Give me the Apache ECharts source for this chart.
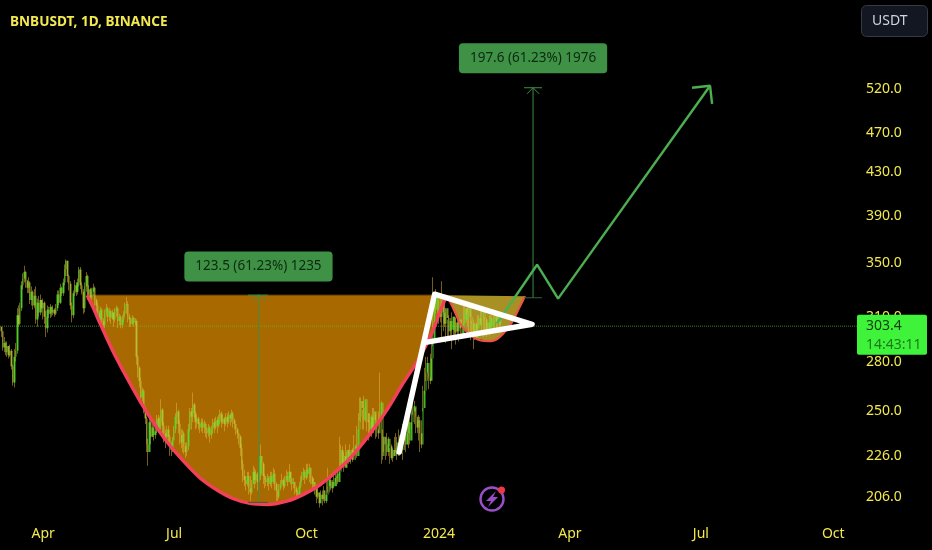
<!DOCTYPE html>
<html><head><meta charset="utf-8">
<style>html,body{margin:0;padding:0;background:#000}#c{width:932px;height:550px}</style>
<script src="https://cdn.jsdelivr.net/npm/echarts@6/dist/echarts.min.js"></script>
</head><body><div id="c"></div>
<script>
// Time is counted in trading days since 2 Mar 2023 (TradingView spaces bars evenly).
const xTickDays = [30,121,213,305,396,487,579];
const xTickLabels = ['Apr','Jul','Oct','2024','Apr','Jul','Oct'];
const yTicks = [206,226,250,280,310,350,390,430,470,520];
const closes = [
303,300,289,292,286,290,284,287,277,267,
283,287,311,305,316,333,338,343,336,331,
335,322,328,318,325,308,320,313,322,316,
320,310,302,315,312,317,313,315,312,316,
326,320,331,327,335,345,352,340,334,318,
311,327,333,328,335,345,333,328,316,332,
340,326,330,324,328,331,322,318,313,308,
315,307,304,313,316,310,314,309,313,308,
314,316,307,310,304,308,312,318,319,310,
308,305,309,306,307,283,
276,268,258,262,252,246,232,228,244,236,
241,237,239,246,240,244,251,242,238,234,
240,236,232,229,234,240,247,250,243,237,
233,238,231,228,231,240,250,247,254,249,
244,246,243,241,244,241,243,240,238,241,
237,240,244,241,245,242,246,249,244,246,
243,247,244,248,246,249,245,243,240,238,
236,230,222,216,214,212,216,210,208,212,
218,214,217,213,216,226,222,216,214,213,
215,212,216,213,217,212,209,206,
210,212,214,211,214,216,213,218,215,212,
213,210,208,207,211,214,216,218,215,219,
217,220,215,212,213,210,206,208,203,207,
205,209,204,207,211,214,210,213,211,215,
217,213,218,229,222,226,220,229,223,227,
229,224,228,231,226,240,247,256,252,245,
257,249,244,240,247,241,250,245,240,238,246,
255,226,236,232,228,235,231,225,229,226,230,
233,228,236,229,234,240,232,238,244,234,
244,250,253,247,241,245,238,232,252,262,
273,279,270,268,282,295,322,315,325,318,
310,322,313,305,316,309,300,307,301,310,
299,306,300,308,302,298,305,316,308,312,
318,310,305,300,305,295,302,309,304,312,
315,308,301,306,302,309,303,308,312,306,
310,305,309,304,303.4];
const highs = [
305,303,300,296,293,293,290,291,288,278,
288,292,316,318,320,336,342,348,344,337,
339,336,332,329,330,332,323,325,326,322,
323,321,314,318,317,319,317,318,316,319,
329,329,334,332,338,349,353,352,341,336,
320,329,337,335,338,347,347,335,330,335,
343,341,333,331,331,334,332,323,320,314,
317,316,309,315,319,317,316,315,315,313,
316,318,317,312,311,311,314,320,324,321,
312,309,311,310,309,308,
284,277,270,264,263,253,247,235,246,245,
243,243,241,248,248,247,257,252,244,240,
242,242,237,233,236,242,249,255,251,245,
240,240,239,233,233,243,252,252,261,255,
250,248,247,244,246,246,245,244,241,243,
242,242,246,246,247,247,248,251,250,248,
247,249,249,250,249,251,250,246,243,241,
238,237,232,224,219,216,218,218,216,214,
221,220,219,218,236,232,226,223,217,216,
217,216,218,218,220,219,213,209,
212,214,217,215,216,219,218,222,218,215,
215,213,211,209,213,216,218,220,219,222,
222,222,220,216,215,213,211,210,208,209,
209,211,209,213,220,216,216,214,218,219,
216,220,236,232,231,228,232,228,229,232,
228,230,237,232,242,249,258,258,251,259,
254,249,245,249,248,252,252,248,242,250,273,
256,240,236,232,238,236,230,232,230,236,
238,236,240,237,238,243,244,240,243,247,
248,253,256,256,252,245,248,247,245,265,
276,283,283,273,285,300,339,325,330,327,
322,324,336,320,320,316,308,311,309,313,
310,310,309,310,309,306,308,320,318,316,
321,320,312,307,308,306,306,311,311,315,
318,317,310,309,306,311,311,311,315,314,
312,311,312,310,306];
const lows = [
298,296,287,286,284,283,282,283,275,265,
264,280,285,303,304,314,330,335,331,327,
327,319,318,315,316,305,303,310,311,313,
308,305,296,299,309,309,310,311,310,311,
314,318,319,325,325,333,340,335,329,315,
306,309,325,325,326,332,330,326,312,313,
328,322,324,320,322,325,318,313,307,305,
305,303,300,302,310,306,307,305,308,303,
306,310,302,304,302,302,306,310,312,306,
303,303,304,303,304,278,
270,264,256,256,249,243,228,221,232,232,
236,234,235,238,238,240,240,238,233,230,
236,233,226,226,228,234,238,243,238,232,
230,228,227,225,226,229,239,240,244,246,
240,241,240,238,239,238,238,236,235,236,
233,235,238,238,240,238,241,243,241,243,
239,242,241,243,242,244,241,240,237,235,
232,226,219,213,211,209,211,207,204,207,
212,210,212,209,212,214,217,212,210,211,
211,209,211,210,212,209,204,204,
205,209,212,209,210,213,211,213,212,209,
210,207,206,205,206,210,213,214,212,214,
215,213,212,210,209,207,203,205,201,203,
202,204,203,203,208,208,209,208,210,213,
211,212,216,219,220,218,221,220,222,224,
222,223,226,224,225,239,245,244,240,240,
244,239,234,238,236,240,238,235,236,235,240,
222,224,228,224,226,226,222,224,223,226,
228,224,226,226,227,224,229,228,232,230,
232,240,248,243,238,238,234,228,230,250,
260,268,268,263,266,270,290,310,312,312,
305,306,295,300,303,292,296,294,296,288,
297,294,291,296,293,297,303,302,305,306,
303,298,294,296,288,294,300,298,302,305,
298,296,297,296,299,297,300,303,300,301,
300,300,300,300];
const bigCupDays =   [60.5,64.6,69.5,78.5,88.3,97.3,106.3,116,127.2,139,150.8,161.9,173.7,185.5,199.4,210.6,222.4,234.2,245.3,257.1,268.9,280,290.5,297.4,302.3,305.8,310.6];
const bigCupPrices = [325.5,316.8,305.4,286.6,269.7,256,244.2,233.4,223.6,215,209.2,205.2,202.9,202.4,204,207,211.7,218.5,226.6,237.6,250.9,266.4,280.9,293.2,304,313.9,325.5];
const smallCupDays =   [310.6,316.2,321,330,339,345.4,354.4,359.3,364.8];
const smallCupPrices = [325.5,313.2,303.4,295.3,293.2,294.6,304,313.2,324.8];
const flagDays =   [277.3,302,369.7,296.7];
const flagPrices = [228,326.2,304.7,292.6];
const projectionDays =   [345.4,373.2,387.8,493.4];
const projectionPrices = [305.4,348.8,323,523.5];
const arrowHeadDays =   [480.9,493.4,494.8];
const arrowHeadPrices = [521.2,523.5,502.5];
const lastPrice = 303.4;
const countdown = '14:43:11';
const measureA = {text:'123.5 (61.23%) 1235', day:179.6, from:203.4, to:325.5, labelPrice:347.3,
  capLeft:172.3, capRight:186.2, barbLeft:175.1, barbRight:184.2, barbPrice:321.8};
const measureB = {text:'197.6 (61.23%) 1976', day:370.4, from:323.6, to:521.2, labelPrice:557.2,
  capLeft:364.1, capRight:376.6, barbLeft:366.2, barbRight:374.6, barbPrice:514.1};
const xMax = 595.5;
const pairs = (a,b)=>a.map((v,i)=>[v,b[i]]);
const FONT = '"Noto Sans"';
const YEL = '#f2e94e';

const bodies = closes.map((c,i)=>[i, i?closes[i-1]:c, c, lows[i], highs[i]]);
const wicks  = closes.map((c,i)=>[i, c, c, lows[i], highs[i]]);

const lineS = (data,color,width,z,extra)=>Object.assign({type:'line',data,symbol:'none',z,
  lineStyle:{color,width},silent:true,clip:false,animation:false},extra||{});
const poly = (pts,fill,z)=>({type:'custom',z,silent:true,data:[[pts[0][0],pts[0][1]]],clip:false,
  renderItem:(p,api)=>({type:'polygon',shape:{points:pts.map(q=>api.coord(q))},style:{fill}})});
const measure = (m)=>{
  const c='#3f8f45';
  return [
   lineS([[m.day,m.from],[m.day,m.to]],c,1,6),
   lineS([[m.capLeft,m.to],[m.capRight,m.to]],c,1,6),
   lineS([[m.barbLeft,m.barbPrice],[m.day,m.to],[m.barbRight,m.barbPrice]],c,1,6),
   lineS([[m.capLeft,m.from],[m.capRight,m.from]],'#35603a',1,6),
   {type:'scatter',z:9,symbolSize:0,silent:true,itemStyle:{opacity:1},data:[[m.day,m.labelPrice]],
    label:{show:true,position:'inside',formatter:m.text,fontFamily:FONT,fontSize:13.5,color:'#0b2a10',
      backgroundColor:'#3f9145',borderRadius:4,padding:[8,11,8,11]}}
  ];
};

const chart = echarts.init(document.getElementById('c'),null,{renderer:'canvas'});
chart.setOption({
  animation:false,
  backgroundColor:'#000',
  title:{text:'BNBUSDT, 1D, BINANCE',left:5,top:10,textStyle:{color:YEL,fontFamily:FONT,fontSize:13.6,fontWeight:700}},
  grid:{left:0,right:75,top:1,bottom:34,containLabel:false},
  xAxis:{type:'value',min:0,max:xMax,splitLine:{show:false},axisLine:{show:false},axisTick:{show:false},
    axisLabel:{customValues:xTickDays,formatter:v=>xTickLabels[xTickDays.indexOf(v)],color:YEL,fontFamily:FONT,fontSize:14,margin:11}},
  yAxis:{type:'log',logBase:10,min:197.2,max:634.6,position:'right',splitLine:{show:false},axisLine:{show:false},axisTick:{show:false},
    axisLabel:{customValues:yTicks,formatter:v=>Number(v).toFixed(1),color:YEL,fontFamily:FONT,fontSize:14,margin:9,align:'left'}},
  series:[
    poly(pairs(bigCupDays,bigCupPrices),'#a86a00',1),
    poly(pairs(smallCupDays,smallCupPrices),'rgba(178,152,38,0.95)',1),
    lineS([[bigCupDays[0],bigCupPrices[0]],[smallCupDays[0],bigCupPrices[0]]],'#7a5200',1,1),
    lineS([[0,lastPrice],[xMax,lastPrice]],'rgba(90,200,60,0.65)',1,2,{lineStyle:{color:'rgba(90,200,60,0.65)',width:1,type:'dotted'}}),
    {type:'candlestick',z:3,silent:true,barWidth:1,encode:{x:0,y:[1,2,3,4]},data:wicks,
      itemStyle:{color:'rgba(0,0,0,0)',color0:'rgba(0,0,0,0)',borderColor:'rgba(225,190,60,0.5)',borderColor0:'rgba(225,190,60,0.5)',borderColorDoji:'rgba(225,190,60,0.5)',borderWidth:1}},
    {type:'candlestick',z:4,silent:true,barWidth:2,encode:{x:0,y:[1,2,3,4]},data:bodies,
      itemStyle:{color:'rgba(80,225,45,0.82)',color0:'rgba(190,205,55,0.7)',borderWidth:0}},
    lineS(pairs(bigCupDays,bigCupPrices),'#f4405a',3.4,5,{smooth:0.3}),
    lineS(pairs(smallCupDays,smallCupPrices),'#f0524a',2.2,5,{smooth:0.4}),
    ...measure(measureA),
    ...measure(measureB),
    lineS(pairs(projectionDays,projectionPrices),'#4caf50',2.4,7),
    lineS(pairs(arrowHeadDays,arrowHeadPrices),'#4caf50',2.4,7),
    lineS(pairs(flagDays,flagPrices),'#ffffff',5.5,8,{lineStyle:{color:'#fff',width:5.5,join:'round',cap:'round'}}),
    {type:'scatter',z:10,symbolSize:0,silent:true,itemStyle:{opacity:1},data:[[xMax,lastPrice]],
      label:{show:true,position:'right',distance:0,offset:[0,8.5],align:'left',
        backgroundColor:'#3ff23a',borderRadius:2,width:70,height:38,padding:[2,0,0,0],
        formatter:'{a|'+lastPrice.toFixed(1)+'}\n{b|'+countdown+'}',
        rich:{a:{color:'#123d10',fontFamily:FONT,fontSize:14,width:61,padding:[0,0,0,9],height:19,lineHeight:19},
              b:{color:'#1c7a1a',fontFamily:FONT,fontSize:14,width:61,padding:[0,0,0,9],height:19,lineHeight:19}}}}
  ],
  graphic:[
    {type:'rect',shape:{x:861.5,y:5.5,width:66,height:31,r:5},style:{fill:'#131722',stroke:'#363a45',lineWidth:1}},
    {type:'text',x:872,y:14,style:{text:'USDT',fill:'#d1d4dc',font:'14px "Noto Sans"'}},
    {type:'circle',shape:{cx:492,cy:499,r:11.5},style:{fill:'none',stroke:'#9a4fc9',lineWidth:2.4}},
    {type:'polygon',shape:{points:[[496,491],[486,501],[491,501],[488,507],[498,497],[493,497]]},style:{fill:'#9a4fc9'}},
    {type:'circle',shape:{cx:501.5,cy:490,r:3.5},style:{fill:'#f23645'}}
  ]
});
</script></body></html>
